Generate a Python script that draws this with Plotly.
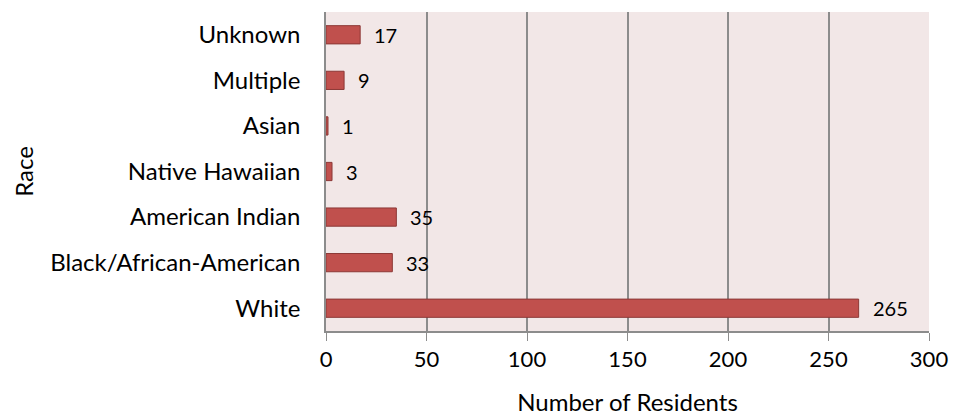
import plotly.graph_objects as go

categories = ["White", "Black/African-American", "American Indian", "Native Hawaiian", "Asian", "Multiple", "Unknown"]
values = [265, 33, 35, 3, 1, 9, 17]
x_ticks = [0, 50, 100, 150, 200, 250, 300]

FONT = "Lato, 'Open Sans', sans-serif"
fig = go.Figure()
fig.add_trace(go.Bar(
    y=categories, x=values, orientation="h",
    marker=dict(color="#C0504D", line=dict(color="#8C3836", width=1)),
    width=0.4,
))
for c, v in zip(categories, values):
    fig.add_annotation(x=v, y=c, text=str(v), showarrow=False, xanchor="left",
                       xshift=12, font=dict(size=20, color="#000", family=FONT))

fig.update_layout(
    width=966, height=416,
    margin=dict(l=326, r=37, t=12, b=85),
    paper_bgcolor="white", plot_bgcolor="#F2E7E7",
    showlegend=False,
    font=dict(family=FONT, size=24, color="#000"),
    xaxis=dict(range=[0, 300], tickvals=x_ticks, showgrid=True, gridcolor="#8C8C8C", gridwidth=1.5,
               showline=True, linecolor="#8C8C8C", linewidth=1.5, ticks="outside", ticklen=8,
               tickcolor="#8C8C8C", zeroline=False, tickfont=dict(size=22), automargin=False,
               title=dict(text="Number of Residents", font=dict(size=24), standoff=26)),
    yaxis=dict(showline=True, linecolor="#8C8C8C", linewidth=1.5, showgrid=False, ticks="",
               ticklabelstandoff=19, tickfont=dict(size=24), automargin=False,
               title=dict(text="Race", font=dict(size=24), standoff=10)),
)
fig.write_html("out.html")
